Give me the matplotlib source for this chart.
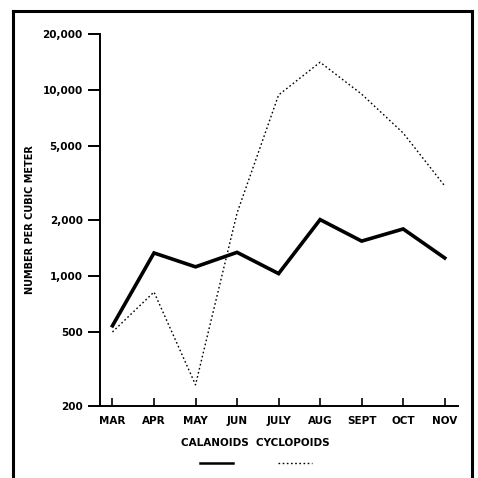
import matplotlib
matplotlib.use("Agg")
import matplotlib.pyplot as plt
from matplotlib.lines import Line2D
from matplotlib.ticker import FixedLocator, NullLocator

months = ["MAR", "APR", "MAY", "JUN", "JULY", "AUG", "SEPT", "OCT", "NOV"]
calanoids = [540, 1330, 1120, 1340, 1030, 2010, 1540, 1790, 1250]
cyclopoids = [500, 820, 260, 2180, 9400, 14100, 9500, 5870, 3050]
yticks = [200, 500, 1000, 2000, 5000, 10000, 20000]
ytick_labels = ["200", "500", "1,000", "2,000", "5,000", "10,000", "20,000"]

W = H = 478
fig = plt.figure(figsize=(4.78, 4.78), dpi=100)
ax = fig.add_axes([100 / W, 1 - 406 / H, (458 - 100) / W, (406 - 34) / H])

x = list(range(len(months)))
ax.plot(x, calanoids, color="black", lw=2.6, solid_joinstyle="miter")
ax.plot(x, cyclopoids, color="black", lw=1.0, linestyle=(0, (1.2, 1.8)))

ax.set_yscale("log")
ax.set_ylim(200, 20000)
ax.set_xlim(-0.3, 8.32)
ax.yaxis.set_major_locator(FixedLocator(yticks))
ax.yaxis.set_minor_locator(NullLocator())
ax.set_yticklabels(ytick_labels)
ax.set_xticks(x)
ax.set_xticklabels(months)

for s in ["top", "right"]:
    ax.spines[s].set_visible(False)
for s in ["left", "bottom"]:
    ax.spines[s].set_linewidth(1.4)

ax.tick_params(axis="y", direction="out", length=8.5, width=1.4, pad=4,
               labelsize=7.5)
ax.tick_params(axis="x", direction="in", length=6, width=1.2, pad=7,
               labelsize=7.5)
for lab in ax.get_xticklabels() + ax.get_yticklabels():
    lab.set_fontweight("bold")

fig.text(30 / W, 1 - 220 / H, "NUMBER PER CUBIC METER", rotation=90,
         ha="center", va="center", fontsize=7, fontweight="bold")

# legend under the axis
fig.text(255 / W, 1 - 443 / H, "CALANOIDS  CYCLOPOIDS", ha="center",
         va="center", fontsize=7.5, fontweight="bold")
fig.add_artist(Line2D([200 / W, 233 / W], [1 - 463 / H] * 2, color="black",
                      lw=1.8))
fig.add_artist(Line2D([278 / W, 312 / W], [1 - 463 / H] * 2, color="black",
                      lw=1.0, linestyle=(0, (1.2, 1.8))))

# scanned frame
fig.add_artist(Line2D([13 / W, 13 / W], [0, 1 - 11 / H], color="black", lw=2.2))
fig.add_artist(Line2D([472 / W, 472 / W], [0, 1 - 11 / H], color="black", lw=2.2))
fig.add_artist(Line2D([13 / W, 472 / W], [1 - 11 / H] * 2, color="black", lw=2.2))

fig.savefig("out.png", dpi=100)
